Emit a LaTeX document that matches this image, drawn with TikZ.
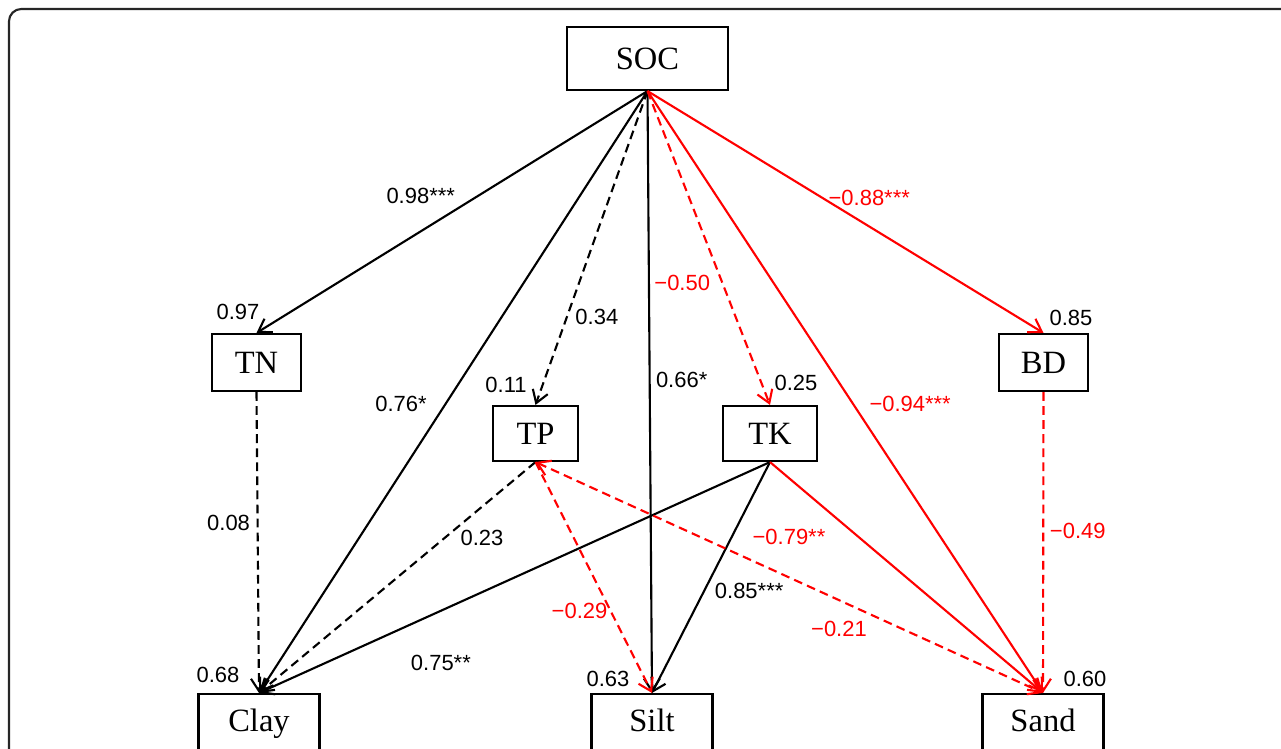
\documentclass[tikz,border=0pt]{standalone}
\usepackage{fontspec}
\setmainfont{Liberation Serif}
\setsansfont{Liberation Sans}
\usetikzlibrary{arrows.meta,positioning,calc}
\tikzset{var/.style={draw,line width=1.2pt,inner sep=0pt,text height=12.2pt,text depth=0pt,font=\fontsize{18.5}{20}\selectfont}}
\tikzset{soil/.style={var,text height=13pt,text depth=4pt,minimum width=2.42cm,minimum height=1.2cm}}
\tikzset{coef/.style={font=\sffamily\fontsize{12.5}{14}\selectfont,inner sep=1pt}}
\tikzset{neg/.style={red}}
\tikzset{ns/.style={dash pattern=on 5pt off 3pt}}

\begin{document}
\begin{tikzpicture}[->,>={Straight Barb[length=7pt,width=9pt]},line width=1.2pt,node distance=1.5cm]
    \useasboundingbox (0,0) rectangle (25.62,-14.98);
    \draw[-,line width=1.2pt,black!85,rounded corners=7pt] (0.18,-15.5) |- (26,-0.18);
    % variables
    \node (soc) [var,minimum width=3.22cm,minimum height=1.26cm] at (12.95,-1.17) {SOC};
    \node (tn) [var,minimum width=1.78cm,minimum height=1.14cm] at (5.13,-7.25) {TN};
    \node (bd) [var,minimum width=1.78cm,minimum height=1.14cm,right of=tn,node distance=15.74cm] {BD};
    \node (tp) [var,minimum width=1.7cm,minimum height=1.1cm] at (10.71,-8.67) {TP};
    \node (tk) [var,minimum width=1.88cm,minimum height=1.1cm,right of=tp,node distance=4.69cm] {TK};
    \node (clay) [soil] at (5.18,-14.48) {Clay};
    \node (silt) [soil,right of=clay,node distance=7.86cm] {Silt};
    \node (sand) [soil,right of=clay,node distance=15.68cm] {Sand};
    % R2
    \node (rtn) [coef] at ($(tn.north)+(-0.37,0.42)$) {0.97};
    \node (rtp) [coef] at ($(tp.north)+(-0.59,0.40)$) {0.11};
    \node (rtk) [coef] at ($(tk.north)+(0.52,0.44)$) {0.25};
    \node (rbd) [coef] at ($(bd.north)+(0.55,0.30)$) {0.85};
    \node (rclay) [coef] at ($(clay.north)+(-0.82,0.36)$) {0.68};
    \node (rsilt) [coef] at ($(silt.north)+(-0.88,0.28)$) {0.63};
    \node (rsand) [coef] at ($(sand.north)+(0.84,0.28)$) {0.60};
    % paths
    \draw (soc.south) -- node[coef,pos=0.58,yshift=0.71cm] (p1) {0.98***} (tn.north);
    \draw (soc.south) -- node[coef,pos=0.52,xshift=-0.89cm] (p2) {0.76*} (clay.north);
    \draw[ns] (soc.south) -- node[coef,pos=0.72,xshift=0.6cm] (p3) {0.34} (tp.north);
    \draw (soc.south) -- node[coef,pos=0.48,xshift=0.64cm] (p4) {0.66*} (silt.north);
    \draw[neg,ns] (soc.south) -- node[coef,pos=0.61,xshift=-0.8cm] (p5) {−0.50} (tk.north);
    \draw[neg] (soc.south) -- node[coef,pos=0.56,yshift=0.58cm] (p6) {−0.88***} (bd.north);
    \draw[neg] (soc.south) -- node[coef,pos=0.52,xshift=1.14cm] (p7) {−0.94***} (sand.north);
    \draw[ns] (tn.south) -- node[coef,pos=0.436,xshift=-0.58cm] (p8) {0.08} (clay.north);
    \draw[ns] (tp.south) -- node[coef,pos=0.1935,yshift=-0.62cm] (p9) {0.23} (clay.north);
    \draw (tk.south) -- node[coef,pos=0.644,yshift=-1.04cm] (p10) {0.75**} (clay.north);
    \draw (tk.south) -- node[coef,pos=0.558,xshift=0.9cm] (p11) {0.85***} (silt.north);
    \draw[neg] (tk.south) -- node[coef,pos=0.326,xshift=-1.4cm] (p12) {−0.79**} (sand.north);
    \draw[neg,ns] (tp.south) -- node[coef,pos=0.644,xshift=-0.62cm] (p13) {−0.29} (silt.north);
    \draw[neg,ns,<->] (tp.south) -- node[coef,pos=0.598,yshift=-0.58cm] (p14) {−0.21} (sand.north);
    \draw[neg,ns] (bd.south) -- node[coef,pos=0.462,xshift=0.69cm] (p15) {−0.49} (sand.north);
\end{tikzpicture}
\end{document}
